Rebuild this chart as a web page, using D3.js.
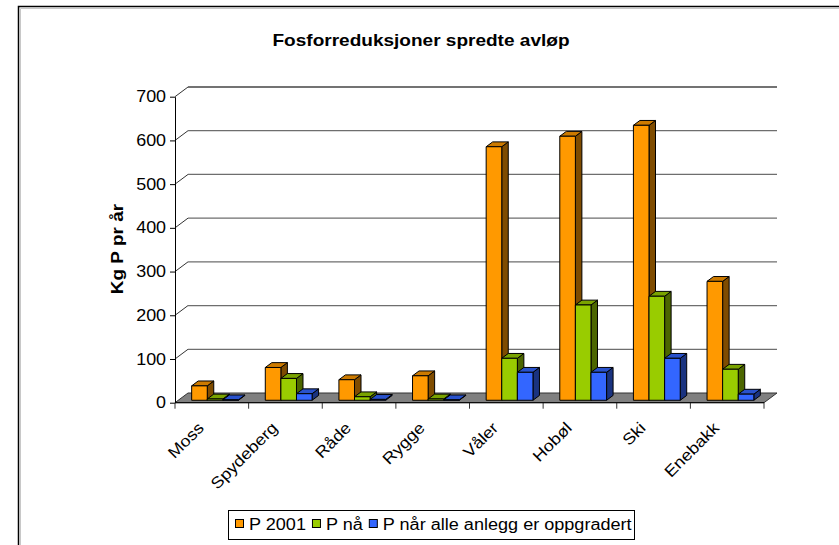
<!DOCTYPE html>
<html>
<head>
<meta charset="utf-8">
<script src="https://cdn.jsdelivr.net/npm/d3@7"></script>
<style>
  body { margin: 0; background: #fff; }
  text { font-family: "Liberation Sans", Arial, sans-serif; fill: #000; }
</style>
</head>
<body>
<div id="chart"></div>
<script>
// data
var categories = ['Moss', 'Spydeberg', 'Råde', 'Rygge', 'Våler', 'Hobøl', 'Ski', 'Enebakk'];
var seriesNames = ['P 2001', 'P nå', 'P når alle anlegg er oppgradert'];
var p2001 = [33, 75, 47, 56, 580, 604, 629, 272];
var pNa = [3, 50, 8, 3, 96, 218, 238, 71];
var pAlle = [1, 15, 2, 1, 64, 64, 96, 14];
var yTicks = [0, 100, 200, 300, 400, 500, 600, 700];

var seriesValues = [p2001, pNa, pAlle];
var fronts = ['#ff9900', '#99cc00', '#3366ff'];
var sides = ['#7f4c00', '#4c6600', '#1a3380'];
var tops = ['#cc7a00', '#7aa300', '#2952cc'];

var w = 839, h = 545;
var depthX = 13, depthY = -9.7; // floor / back wall offset
var sx = 1.12; // text in the original is a bit wider than Arial

var svg = d3.select('#chart').append('svg')
    .attr('width', w)
    .attr('height', h);

// outer frame
svg.append('rect')
    .attr('x', 18.5).attr('y', 6.5)
    .attr('width', 900).attr('height', 600)
    .attr('fill', 'none').attr('stroke', '#000').attr('stroke-width', 1.5);
svg.append('path')
    .attr('d', 'M20.5,560V8.5H900')
    .attr('fill', 'none').attr('stroke', '#c8c8c8');

svg.append('text')
    .attr('transform', 'translate(421,46) scale(' + sx + ',1)')
    .attr('text-anchor', 'middle')
    .style('font-size', '17px').style('font-weight', 'bold')
    .text('Fosforreduksjoner spredte avløp');

var x = d3.scaleBand().domain(categories).range([175, 764]);
var xs = d3.scaleBand().domain(seriesNames).range([0, x.bandwidth()]).paddingOuter(0.86);
var y = d3.scaleLinear().domain([0, 700]).range([402.7, 96.7]);

// back wall gridlines + left wall diagonals
var grid = svg.append('g');
yTicks.forEach(function(t) {
    if (t === 0) return;
    grid.append('line')
        .attr('x1', 175 + depthX).attr('y1', y(t) + depthY)
        .attr('x2', 764 + depthX).attr('y2', y(t) + depthY)
        .attr('stroke', t === 700 ? '#444' : '#6e6e6e').attr('stroke-width', 1.3);
    grid.append('line')
        .attr('x1', 175).attr('y1', y(t))
        .attr('x2', 175 + depthX).attr('y2', y(t) + depthY)
        .attr('stroke', '#333').attr('stroke-width', 1);
});

// floor
svg.append('path')
    .attr('d', 'M175,' + y(0) + 'L764,' + y(0) + 'L' + (764 + depthX) + ',' + (y(0) + depthY) +
        'L' + (175 + depthX) + ',' + (y(0) + depthY) + 'Z')
    .attr('fill', '#808080').attr('stroke', '#333').attr('stroke-width', 1);

// y axis
svg.append('g')
    .attr('transform', 'translate(175,0)')
    .call(d3.axisLeft(y).tickValues(yTicks).tickSize(5).tickPadding(3).tickSizeOuter(0))
    .call(function(g) {
        g.select('.domain').attr('stroke', '#000');
        g.selectAll('text')
            .attr('transform', 'scale(' + sx + ',1)')
            .style('font-size', '16px')
            .style('font-family', '"Liberation Sans", Arial, sans-serif');
    });

svg.append('text')
    .attr('transform', 'translate(123,249) rotate(-90) scale(' + sx + ',1)')
    .attr('text-anchor', 'middle')
    .style('font-size', '17px').style('font-weight', 'bold')
    .text('Kg P pr år');

// x ticks at category boundaries
var xTickPos = categories.map(function(c) { return x(c); }).concat([x.range()[1]]);
svg.append('g').selectAll('line')
    .data(xTickPos)
    .enter().append('line')
    .attr('x1', function(d) { return d; }).attr('x2', function(d) { return d; })
    .attr('y1', y(0)).attr('y2', y(0) + 6)
    .attr('stroke', '#333');
svg.append('line')
    .attr('x1', 175).attr('x2', 764).attr('y1', y(0)).attr('y2', y(0))
    .attr('stroke', '#000');

// bars, left to right so the next bar hides the side face
var fx = 0.25, bx = 0.75;
var bars = svg.append('g');
categories.forEach(function(c, ci) {
    seriesNames.forEach(function(s, si) {
        var v = seriesValues[si][ci];
        var x0 = x(c) + xs(s) + depthX * fx;
        var x1 = x0 + xs.bandwidth();
        var yb = y(0) + depthY * fx;
        var yt = y(v) + depthY * fx;
        var ddx = depthX * (bx - fx), ddy = depthY * (bx - fx);
        var g = bars.append('g').attr('stroke', '#000').attr('stroke-width', 1).attr('stroke-linejoin', 'round');
        g.append('path')
            .attr('d', 'M' + x1 + ',' + yt + 'L' + (x1 + ddx) + ',' + (yt + ddy) + 'L' + (x1 + ddx) + ',' + (yb + ddy) + 'L' + x1 + ',' + yb + 'Z')
            .attr('fill', sides[si]);
        g.append('path')
            .attr('d', 'M' + x0 + ',' + yt + 'L' + (x0 + ddx) + ',' + (yt + ddy) + 'L' + (x1 + ddx) + ',' + (yt + ddy) + 'L' + x1 + ',' + yt + 'Z')
            .attr('fill', tops[si]);
        g.append('rect')
            .attr('x', x0).attr('y', yt)
            .attr('width', x1 - x0).attr('height', Math.max(0, yb - yt))
            .attr('fill', fronts[si]);
    });
});

// category labels
svg.append('g').selectAll('text')
    .data(categories)
    .enter().append('text')
    .attr('transform', function(d) {
        return 'translate(' + (x(d) + x.bandwidth() / 2 - 7) + ',429) rotate(-45) scale(' + sx + ',1)';
    })
    .attr('text-anchor', 'end')
    .style('font-size', '16px')
    .text(function(d) { return d; });

// legend
var legend = svg.append('g');
legend.append('rect')
    .attr('x', 228.5).attr('y', 510.5)
    .attr('width', 406).attr('height', 29)
    .attr('fill', '#fff').attr('stroke', '#000');
var lx = 235;
seriesNames.forEach(function(s, i) {
    legend.append('rect')
        .attr('x', lx + 0.5).attr('y', 519.5)
        .attr('width', 8).attr('height', 8)
        .attr('fill', fronts[i]).attr('stroke', '#000');
    var t = legend.append('text')
        .attr('transform', 'translate(' + (lx + 14) + ',530) scale(1.13,1)')
        .style('font-size', '16px')
        .text(s);
    lx += 14 + t.node().getComputedTextLength() * 1.13 + 6;
});
</script>
</body>
</html>
